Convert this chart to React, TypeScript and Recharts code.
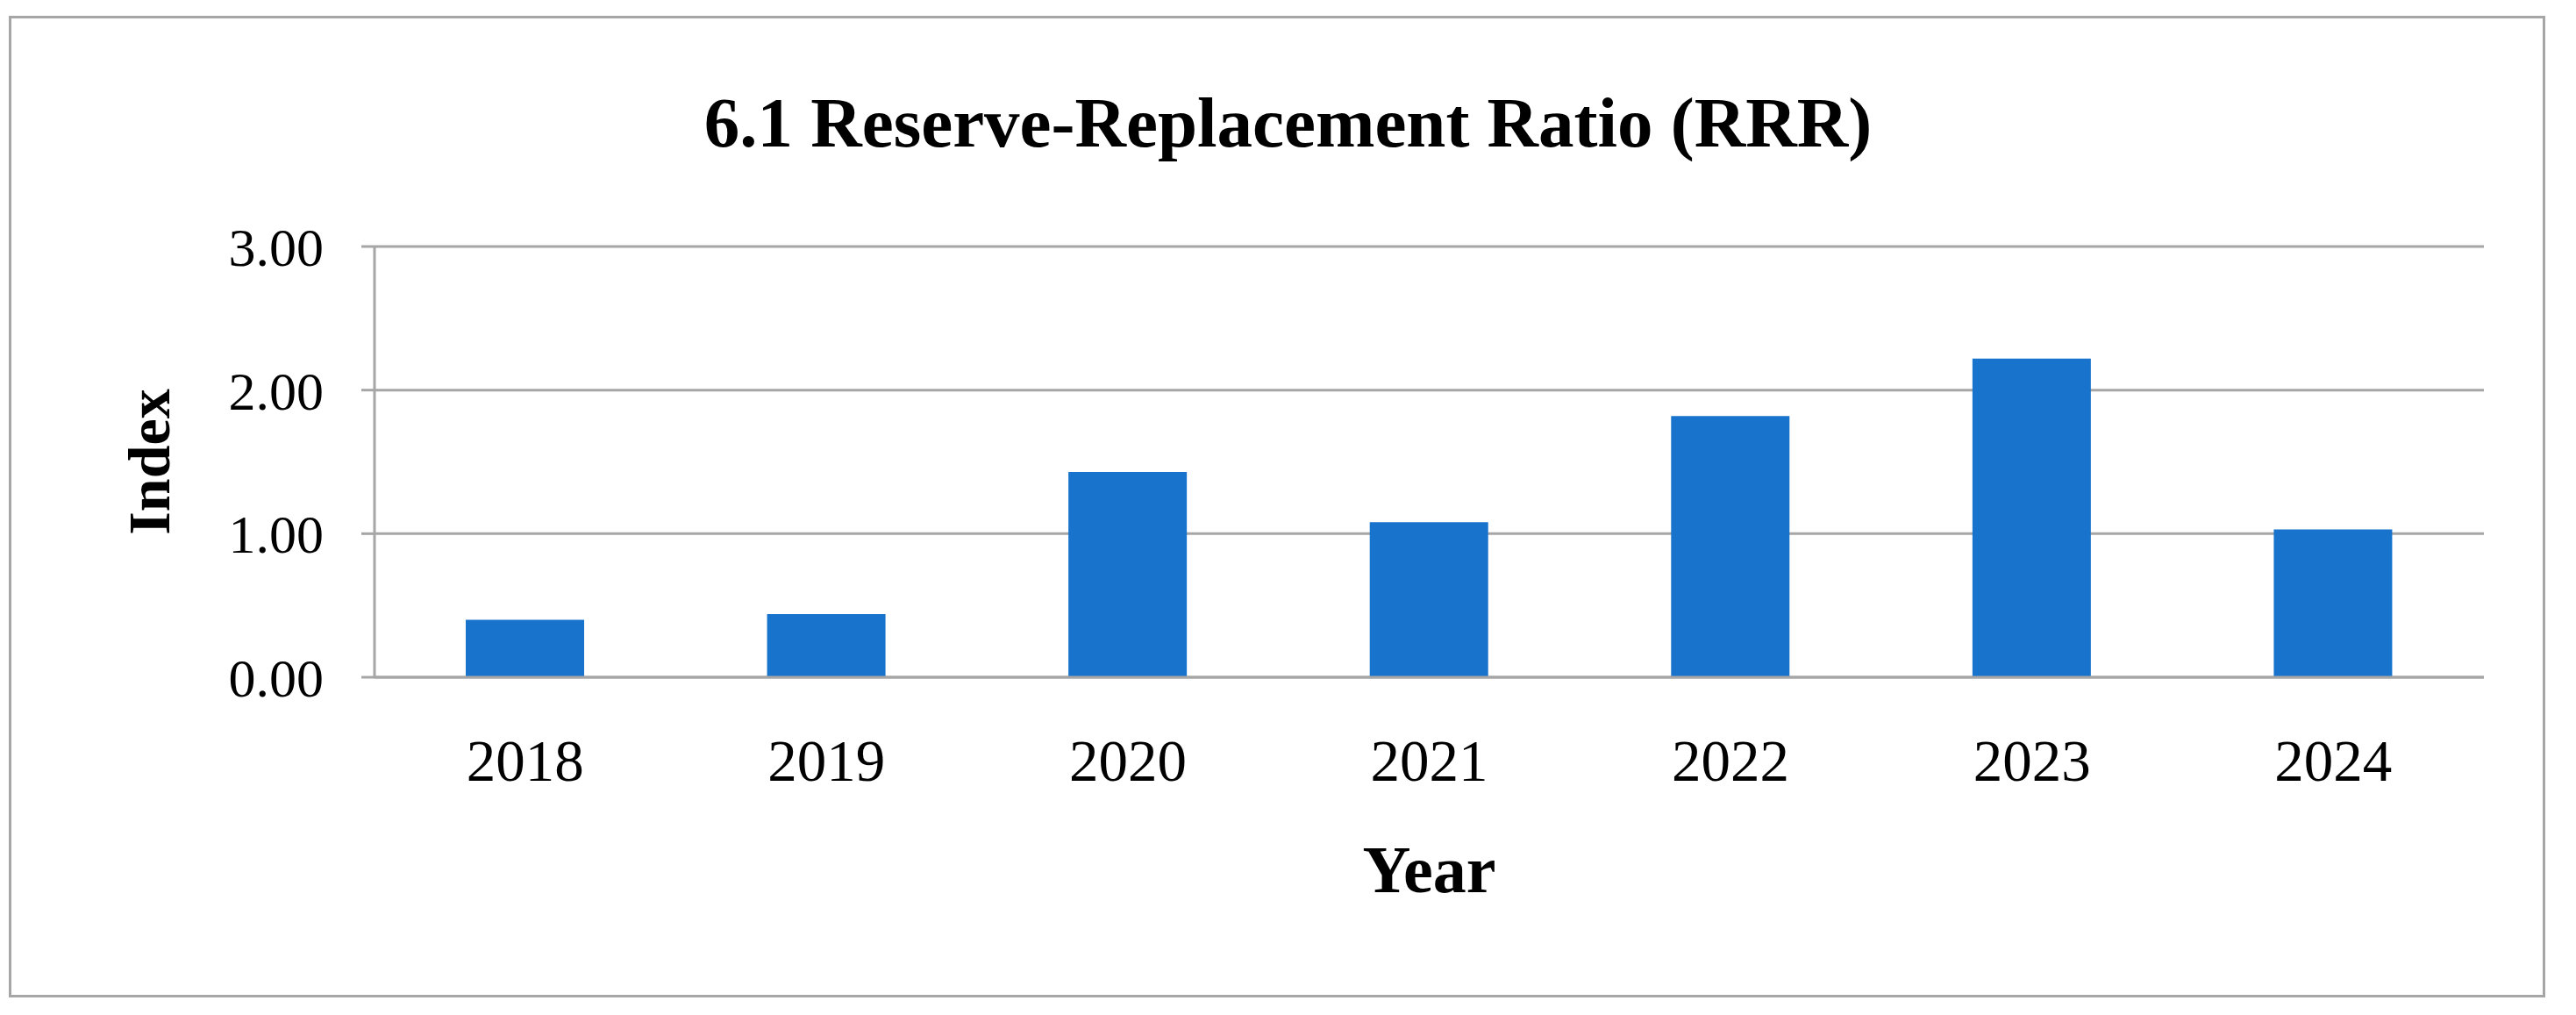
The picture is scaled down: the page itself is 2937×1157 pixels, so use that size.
import { Bar, BarChart, CartesianGrid, Label, XAxis, YAxis } from 'recharts';

const years = ['2018', '2019', '2020', '2021', '2022', '2023', '2024'];
const rrrValues = [0.4, 0.44, 1.43, 1.08, 1.82, 2.22, 1.03];
const yTicks = [0, 1, 2, 3];

const data = years.map((year, i) => ({ year, rrr: rrrValues[i] }));

const FONT = '"Liberation Serif", "DejaVu Serif", serif';
const GREY = '#A6A6A6';
const BLUE = '#1873CC';

const renderIndexLabel = (props: any) => {
    const vb = props.viewBox || {};
    const x = vb.x - 34;
    const y = vb.y + vb.height / 2;
    return (
        <text
            x={x}
            y={y}
            transform={`rotate(-90, ${x}, ${y})`}
            textAnchor='middle'
            fontFamily={FONT}
            fontWeight='bold'
            fontSize={68}
            fill='#000'
        >
            Index
        </text>
    );
};

export default function App() {
    return (
        <div style={{ position: 'absolute', left: 0, top: 0, width: 2937, height: 1157, background: '#fff' }}>
            <div
                style={{
                    position: 'absolute',
                    left: 10,
                    top: 18,
                    width: 2892,
                    height: 1119,
                    border: `3px solid ${GREY}`,
                    boxSizing: 'border-box',
                }}
            />
            <div
                style={{
                    position: 'absolute',
                    left: 0,
                    top: 100,
                    width: 2937,
                    textAlign: 'center',
                    fontFamily: FONT,
                    fontWeight: 'bold',
                    fontSize: 81,
                    lineHeight: '81px',
                    color: '#000',
                }}
            >
                6.1 Reserve-Replacement Ratio (RRR)
            </div>
            <div style={{ position: 'absolute', left: 0, top: 0 }}>
                <BarChart width={2937} height={1157} data={data} margin={{ top: 281, right: 105, left: 227, bottom: 125 }}>
                    <CartesianGrid vertical={false} stroke={GREY} strokeWidth={3} />
                    <XAxis
                        dataKey='year'
                        height={260}
                        tickLine={false}
                        tickSize={0}
                        tickMargin={70}
                        axisLine={{ stroke: GREY, strokeWidth: 3 }}
                        tick={{ fill: '#000', fontSize: 67, fontFamily: FONT }}
                    >
                        <Label
                            value='Year'
                            position='insideBottom'
                            offset={15}
                            fill='#000'
                            fontSize={76}
                            fontWeight='bold'
                            fontFamily={FONT}
                        />
                    </XAxis>
                    <YAxis
                        width={200}
                        domain={[0, 3]}
                        ticks={yTicks}
                        interval={0}
                        tickFormatter={(v) => Number(v).toFixed(2)}
                        tickSize={15}
                        tickMargin={43}
                        tickLine={{ stroke: GREY, strokeWidth: 3 }}
                        axisLine={{ stroke: GREY, strokeWidth: 3 }}
                        tick={{ fill: '#000', fontSize: 62, fontFamily: FONT }}
                    >
                        <Label content={renderIndexLabel} />
                    </YAxis>
                    <Bar dataKey='rrr' fill={BLUE} barSize={135} isAnimationActive={false} />
                </BarChart>
            </div>
        </div>
    );
}
